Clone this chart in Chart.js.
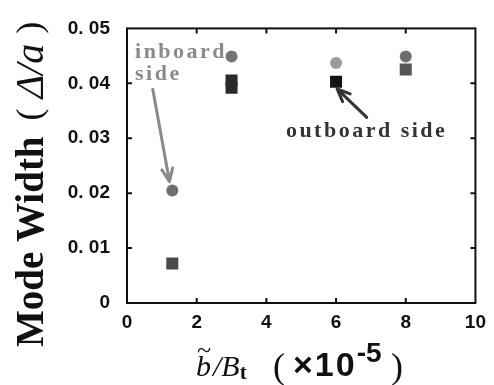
<!DOCTYPE html>
<html>
<head>
<meta charset="utf-8">
<script src="https://cdn.jsdelivr.net/npm/chart.js@4"></script>
<style>
  html, body { margin: 0; padding: 0; background: #fff; }
  #wrap { width: 494px; height: 385px; }
</style>
</head>
<body>
<div id="wrap"><canvas id="chart" width="494" height="385"></canvas></div>
<script>
// values
const inboardX = [1.3, 3, 6, 8];
const inboardY = [0.0205, 0.0449, 0.0437, 0.0449];
const outboardX = [1.3, 3, 3, 6, 8];
const outboardY = [0.0072, 0.0405, 0.0392, 0.0403, 0.0425];
const xTicks = [0, 2, 4, 6, 8, 10];
const yTicks = [0, 0.01, 0.02, 0.03, 0.04, 0.05];

const ctx = document.getElementById("chart");

const toPoints = (xs, ys) => xs.map((v, i) => ({ x: v, y: ys[i] }));

// frame, inward ticks, titles and the two labelled arrows
const decor = {
  id: 'decor',
  beforeDatasetsDraw(chart) {
    const c = chart.ctx;
    const a = chart.chartArea;
    const { x, y } = chart.scales;
    c.save();
    c.strokeStyle = '#111';
    c.lineWidth = 2;
    c.strokeRect(a.left, a.top, a.right - a.left, a.bottom - a.top);
    c.beginPath();
    yTicks.slice(1, -1).forEach(v => {
      const py = y.getPixelForValue(v);
      c.moveTo(a.left, py); c.lineTo(a.left + 5, py);
      c.moveTo(a.right, py); c.lineTo(a.right - 5, py);
    });
    xTicks.slice(1, -1).forEach(v => {
      const px = x.getPixelForValue(v);
      c.moveTo(px, a.bottom); c.lineTo(px, a.bottom - 5);
      c.moveTo(px, a.top); c.lineTo(px, a.top + 5);
    });
    c.stroke();
    c.restore();
  },
  afterDraw(chart) {
    const c = chart.ctx;
    const { x, y } = chart.scales;
    const P = (vx, vy) => [x.getPixelForValue(vx), y.getPixelForValue(vy)];

    function arrow(from, to, color) {
      const [x1, y1] = P(from[0], from[1]);
      const [x2, y2] = P(to[0], to[1]);
      const ang = Math.atan2(y2 - y1, x2 - x1);
      c.save();
      c.strokeStyle = color;
      c.lineWidth = 3;
      c.lineCap = 'round';
      c.beginPath();
      c.moveTo(x1, y1); c.lineTo(x2, y2);
      const h = 14;
      c.moveTo(x2, y2); c.lineTo(x2 - h * Math.cos(ang - 0.4), y2 - h * Math.sin(ang - 0.4));
      c.moveTo(x2, y2); c.lineTo(x2 - h * Math.cos(ang + 0.4), y2 - h * Math.sin(ang + 0.4));
      c.stroke();
      c.restore();
    }

    c.save();
    c.font = 'bold 22px "Liberation Serif", serif';
    c.letterSpacing = '2.5px';
    c.textBaseline = 'alphabetic';
    c.fillStyle = '#8a8a8a';
    let [tx, ty] = P(0.23, 0.0446);
    c.fillText('inboard', tx, ty);
    [tx, ty] = P(0.23, 0.0406);
    c.fillText('side', tx, ty);
    c.fillStyle = '#333';
    [tx, ty] = P(4.56, 0.0302);
    c.fillText('outboard side', tx, ty);
    c.restore();

    arrow([0.74, 0.0389], [1.22, 0.0221], '#8a8a8a');
    arrow([6.88, 0.0338], [6.03, 0.039], '#333');

    // y title
    c.save();
    c.translate(43, 347);
    c.rotate(-Math.PI / 2);
    c.fillStyle = '#111';
    c.textBaseline = 'alphabetic';
    c.font = 'bold 39px "Liberation Serif", serif';
    let cx = 0;
    c.fillText('Mode Width', cx, 0); cx += c.measureText('Mode Width').width + 16;
    c.font = '36px "Liberation Serif", serif';
    c.fillText('(', cx, -2); cx += c.measureText('(').width + 10;
    c.font = 'italic 40px "Liberation Serif", serif';
    c.fillText('\u0394/a', cx, 0); cx += c.measureText('\u0394/a').width + 10;
    c.font = '36px "Liberation Serif", serif';
    c.fillText(')', cx, -2);
    c.restore();

    // x title
    c.save();
    c.fillStyle = '#111';
    c.textBaseline = 'alphabetic';
    const base = 376;
    cx = 196;
    c.font = 'italic 30px "Liberation Serif", serif';
    c.fillText('b', cx, base);
    const bw = c.measureText('b').width;
    c.font = '26px "Liberation Serif", serif';
    c.fillText('~', cx + 1, base - 18);
    cx += bw + 2;
    c.font = 'italic 30px "Liberation Serif", serif';
    c.fillText('/B', cx, base); cx += c.measureText('/B').width;
    c.font = 'bold 21px "Liberation Serif", serif';
    c.fillText('t', cx, base + 3);
    c.font = '36px "Liberation Serif", serif';
    c.fillText('(', 273, base + 2);
    c.font = 'bold 34px "Liberation Sans", sans-serif';
    c.letterSpacing = '2px';
    c.fillText('\u00d710', 293, base); cx = 293 + c.measureText('\u00d710').width;
    c.letterSpacing = '0px';
    c.font = 'bold 28px "Liberation Sans", sans-serif';
    c.fillText('-5', cx, base - 14);
    c.font = '36px "Liberation Serif", serif';
    c.fillText(')', 391, base + 2);
    c.restore();
  }
};

let mainChart = new Chart(ctx, {
  type: 'scatter',
  data: {
    datasets: [
      {
        label: 'inboard side',
        data: toPoints(inboardX, inboardY),
        pointStyle: 'circle',
        pointRadius: 6,
        borderWidth: 0,
        backgroundColor: ['#6e6e6e', '#747474', '#9c9c9c', '#6e6e6e']
      },
      {
        label: 'outboard side',
        data: toPoints(outboardX, outboardY),
        pointStyle: 'rect',
        pointRadius: 8.5,
        borderWidth: 0,
        backgroundColor: ['#4a4a4a', '#2a2a2a', '#2a2a2a', '#151515', '#555555']
      }
    ]
  },
  options: {
    responsive: false,
    animation: false,
    layout: { padding: { top: 25, right: 14, left: 0, bottom: 0 } },
    plugins: {
      legend: { display: false },
      tooltip: { enabled: false }
    },
    scales: {
      x: {
        type: 'linear',
        min: 0,
        max: 10,
        afterBuildTicks: s => { s.ticks = xTicks.map(v => ({ value: v })); },
        afterFit: s => { s.height = 82; },
        grid: { display: false, drawTicks: false },
        border: { display: false },
        ticks: {
          padding: 8,
          color: '#111',
          font: { family: '"Liberation Sans", Arial, sans-serif', size: 19, weight: 'bold' }
        }
      },
      y: {
        min: 0,
        max: 0.05,
        afterBuildTicks: s => { s.ticks = yTicks.map(v => ({ value: v })); },
        afterFit: s => { s.width = 127; },
        grid: { display: false, drawTicks: false },
        border: { display: false },
        ticks: {
          padding: 17,
          color: '#111',
          font: { family: '"Liberation Sans", Arial, sans-serif', size: 19, weight: 'bold' },
          callback: v => v === 0 ? '0' : v.toFixed(2).replace('.', '. ')
        }
      }
    }
  },
  plugins: [decor]
});
</script>
</body>
</html>
